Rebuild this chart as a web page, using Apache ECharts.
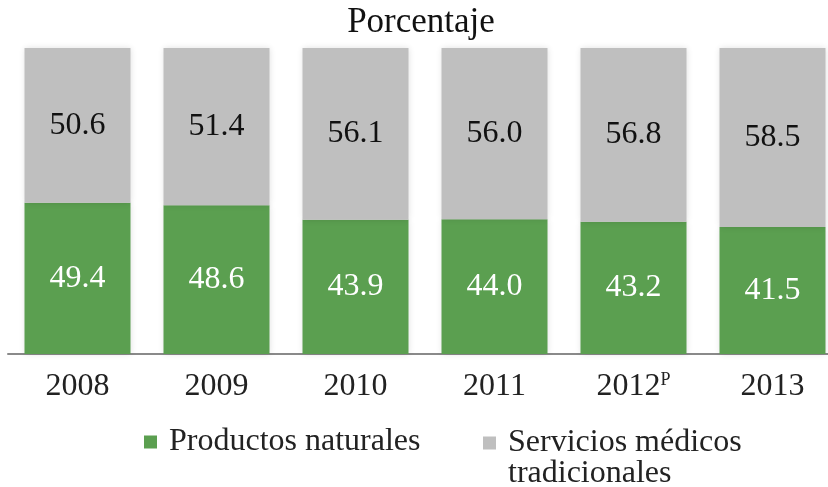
<!DOCTYPE html>
<html>
<head>
<meta charset="utf-8">
<script src="https://cdn.jsdelivr.net/npm/echarts@6/dist/echarts.min.js"></script>
<style>
  html, body { margin: 0; padding: 0; background: #fff; overflow: hidden; }
  #chart-container { width: 842px; height: 487px; }
</style>
</head>
<body>
<div id="chart-container"></div>
<script>
  const years = ["2008", "2009", "2010", "2011", "2012P", "2013"];
  const productos = [49.4, 48.6, 43.9, 44.0, 43.2, 41.5];
  const servicios = [50.6, 51.4, 56.1, 56.0, 56.8, 58.5];
  const seriesNames = ["Productos naturales", "Servicios médicos\ntradicionales"];

  var dom = document.getElementById("chart-container");
  var myChart = echarts.init(dom, null, { renderer: "canvas" });
  var serif = "'Liberation Serif', 'DejaVu Serif', serif";

  var legendText = {
    fontFamily: serif,
    fontSize: 32,
    color: "#222",
    lineHeight: 31,
    padding: [0, 0, 0, 7],
  };
  // blank first line so the first text line sits level with the square
  function legendFormatter(name) {
    return name.indexOf("\n") >= 0 ? " \n" + name : name;
  }

  var option = {
    animation: false,
    title: {
      text: "Porcentaje",
      left: "center",
      top: 0,
      textStyle: { fontFamily: serif, fontSize: 35, fontWeight: "normal", color: "#111" },
    },
    legend: [
      {
        top: 421,
        left: 139,
        itemWidth: 13,
        itemHeight: 13,
        textStyle: legendText,
        formatter: legendFormatter,
        data: [{ name: seriesNames[0], icon: "rect" }],
      },
      {
        top: 391,
        left: 478,
        itemWidth: 13,
        itemHeight: 13,
        textStyle: legendText,
        formatter: legendFormatter,
        data: [{ name: seriesNames[1], icon: "rect" }],
      },
    ],
    grid: { left: 8, right: 0, top: 48, bottom: 133 },
    xAxis: {
      type: "category",
      data: years,
      axisLine: { lineStyle: { color: "#8a8a8a", width: 2 } },
      axisTick: { show: false },
      axisLabel: {
        margin: 17,
        formatter: function (v) {
          return v.endsWith("P") ? "{a|" + v.slice(0, -1) + "}{s|P}" : "{a|" + v + "}";
        },
        rich: {
          a: { fontFamily: serif, fontSize: 32, color: "#222" },
          s: { fontFamily: serif, fontSize: 18, color: "#222", verticalAlign: "top", padding: [0, 0, 13, 0] },
        },
      },
    },
    yAxis: { type: "value", min: 0, max: 100, show: false },
    series: [
      {
        name: seriesNames[0],
        type: "bar",
        stack: "total",
        barWidth: 106,
        data: productos,
        itemStyle: { color: "#5b9f50", shadowColor: "rgba(0,0,0,0.12)", shadowBlur: 6 },
        label: {
          show: true,
          position: "inside",
          formatter: function (p) { return p.value.toFixed(1); },
          fontFamily: serif,
          fontSize: 32,
          color: "#fff",
        },
      },
      {
        name: seriesNames[1],
        type: "bar",
        stack: "total",
        barWidth: 106,
        data: servicios,
        itemStyle: { color: "#bfbfbf", shadowColor: "rgba(0,0,0,0.12)", shadowBlur: 6 },
        label: {
          show: true,
          position: "inside",
          formatter: function (p) { return p.value.toFixed(1); },
          fontFamily: serif,
          fontSize: 32,
          color: "#111",
        },
      },
    ],
  };

  myChart.setOption(option);
  window.addEventListener("resize", myChart.resize);
</script>
</body>
</html>
